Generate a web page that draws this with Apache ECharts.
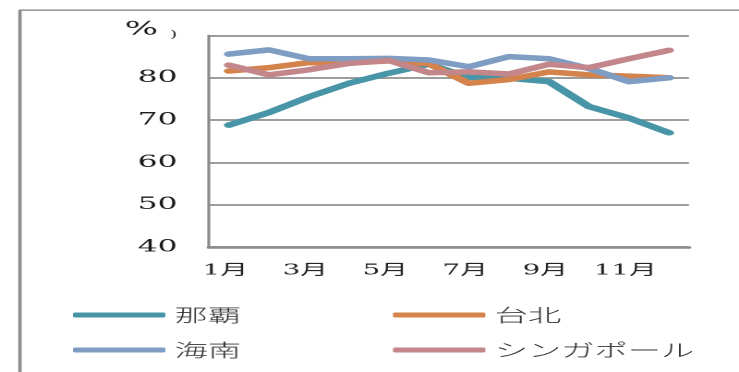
<!DOCTYPE html>
<html>
<head>
<meta charset="utf-8">
<script src="https://cdn.jsdelivr.net/npm/echarts@6/dist/echarts.min.js"></script>
<style>
  html, body { margin: 0; padding: 0; background: #fff; overflow: hidden; }
  #wrap { width: 739px; height: 372px; overflow: hidden; position: relative; }
  /* the chart is laid out narrow and stretched sideways to the full width */
  #chart { width: 400px; height: 372px; transform-origin: 0 0; transform: scaleX(1.8475); }
</style>
</head>
<body>
<div id="wrap"><div id="chart"></div></div>
<script>
// Monthly percentages for four cities
const months = ['1月','2月','3月','4月','5月','6月','7月','8月','9月','10月','11月','12月'];
const naha      = [68.8, 71.8, 75.5, 78.7, 81.1, 83.2, 80.1, 79.9, 79.1, 73.2, 70.5, 67.0];
const taipei    = [81.6, 82.4, 83.6, 83.5, 84.0, 83.3, 78.7, 79.6, 81.4, 80.7, 80.4, 80.0];
const hainan    = [85.6, 86.6, 84.5, 84.5, 84.6, 84.2, 82.6, 85.0, 84.5, 82.2, 79.1, 80.0];
const singapore = [83.0, 80.7, 81.9, 83.4, 84.1, 81.2, 81.4, 80.9, 83.2, 82.4, 84.5, 86.5];
const seriesNames = ['那覇', '台北', '海南', 'シンガポール'];
const yTicks = [40, 50, 60, 70, 80, 90];

const colors = ['#4795A7', '#D5834C', '#7F9DC2', '#C2868B'];
const numFont = '"DejaVu Serif", "Noto Sans CJK JP", serif';
const jpFont = '"Noto Sans CJK JP", sans-serif';

const chart = echarts.init(document.getElementById('chart'), null, { renderer: 'canvas', devicePixelRatio: 2 });

function lineSeries(name, data, color) {
  return {
    name: name,
    type: 'line',
    data: data,
    symbol: 'none',
    color: color,
    lineStyle: { width: 5.5, color: color, cap: 'round', join: 'round' }
  };
}

function legendBlock(names, left) {
  return {
    data: names,
    orient: 'vertical',
    left: left,
    top: 306,
    padding: 0,
    itemGap: 17,
    itemWidth: 50,
    itemHeight: 5,
    icon: 'roundRect',
    textStyle: { fontFamily: jpFont, fontSize: 18, fontWeight: 300, color: '#333' }
  };
}

chart.setOption({
  animation: false,
  backgroundColor: '#fff',
  grid: { left: 113.1, right: 27.1, top: 35.5, bottom: 125, containLabel: false },
  xAxis: {
    type: 'category',
    data: months,
    boundaryGap: true,
    axisLine: { show: true, lineStyle: { color: '#8a8a8a', width: 2.6 } },
    axisTick: { show: false },
    axisLabel: {
      interval: 1,
      margin: 16,
      color: '#222',
      fontFamily: numFont,
      fontSize: 15,
      padding: [0, 4, 0, 0]
    },
    splitLine: { show: false }
  },
  yAxis: {
    type: 'value',
    min: yTicks[0],
    max: yTicks[yTicks.length - 1],
    interval: 10,
    axisLine: { show: true, lineStyle: { color: '#8a8a8a', width: 1.6 } },
    axisTick: { show: false },
    axisLabel: {
      margin: 17,
      color: '#1a1a1a',
      fontFamily: numFont,
      fontSize: 17,
      formatter: v => (v === 90 ? '' : String(v))
    },
    splitLine: { show: true, lineStyle: { color: '#8f8f8f', width: 1.7 } }
  },
  legend: [
    legendBlock([seriesNames[0], seriesNames[2]], 39.5),
    legendBlock([seriesNames[1], seriesNames[3]], 212.7)
  ],
  graphic: [
    // outer frame: top rule and left rule
    { type: 'line', shape: { x1: 10.3, y1: 10.2, x2: 400, y2: 10.2 }, style: { stroke: '#999', lineWidth: 1.7 }, silent: true },
    { type: 'line', shape: { x1: 10.8, y1: 10, x2: 10.8, y2: 372 }, style: { stroke: '#8c8c8c', lineWidth: 1.8 }, silent: true },
    // unit caption of the value axis
    { type: 'text', left: 67.5, top: 20, style: { text: '%', font: '19px ' + numFont, fill: '#1a1a1a' } },
    { type: 'text', left: 92, top: 30, style: { text: ')', font: '10px ' + numFont, fill: '#1a1a1a' } }
  ],
  series: [
    lineSeries(seriesNames[0], naha, colors[0]),
    lineSeries(seriesNames[1], taipei, colors[1]),
    lineSeries(seriesNames[2], hainan, colors[2]),
    lineSeries(seriesNames[3], singapore, colors[3])
  ]
});
</script>
</body>
</html>
